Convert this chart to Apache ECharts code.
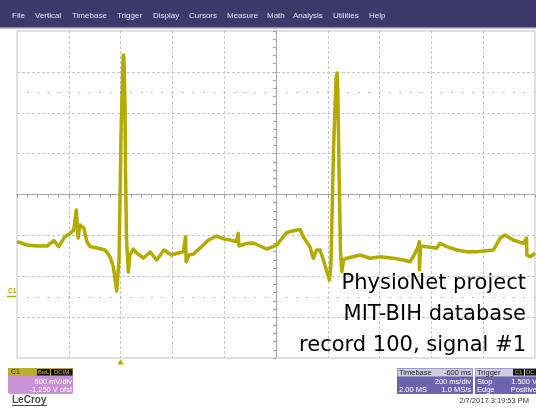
<!DOCTYPE html>
<html><head><meta charset="utf-8">
<script src="https://cdn.jsdelivr.net/npm/echarts@6/dist/echarts.min.js"></script>
<style>html,body{margin:0;padding:0;background:#fff}#c{width:536px;height:410px}</style>
</head><body><div id="c"></div>
<script>
const timeMs = [-400,-361,-323,-284,-257,-239,-215,-194,-181,-171,-164,-157,-142,-130,-117,-91,-60,-41,-28,-15,-6,2,10,13,17,19,23,30,36,49,62,88,114,139,168,195,223,242,251,253,264,281,313,339,371,403,422,448,454,457,487,512,538,564,603,641,680,693,705,731,744,757,770,783,806,812,822,832,836,839,844,849,854,861,873,898,924,963,1002,1053,1092,1117,1130,1149,1153,1154,1158,1182,1220,1233,1259,1298,1336,1375,1439,1465,1484,1516,1555,1567,1569,1581,1600];
const volts = [0.673,0.632,0.62,0.62,0.685,0.612,0.734,0.775,0.816,1.06,0.718,0.877,0.84,0.673,0.612,0.596,0.571,0.489,0.367,0.07,0.449,2.039,2.956,2.92,2.32,1.513,0.693,0.302,0.51,0.583,0.534,0.473,0.547,0.449,0.571,0.51,0.534,0.55,0.734,0.428,0.51,0.522,0.612,0.693,0.742,0.702,0.693,0.673,0.775,0.62,0.653,0.657,0.62,0.583,0.632,0.785,0.816,0.822,0.734,0.612,0.47,0.571,0.571,0.449,0.204,0.388,1.794,2.675,2.736,2.467,1.427,0.571,0.306,0.449,0.47,0.489,0.51,0.47,0.489,0.47,0.449,0.428,0.489,0.612,0.673,0.327,0.62,0.612,0.592,0.653,0.612,0.571,0.55,0.55,0.571,0.714,0.755,0.693,0.653,0.718,0.51,0.489,0.531];
const msPerDiv = 200, triggerDelayMs = -600, voltsPerDiv = 0.5, offsetV = -1.25, refLevelsV = [0, 2.5];
const menuItems = ['File','Vertical','Timebase','Trigger','Display','Cursors','Measure','Math','Analysis','Utilities','Help'];
const overlayLines = ['PhysioNet project','MIT-BIH database','record 100, signal #1'];
const dateText = '2/7/2017 3:19:53 PM';

// ---- layout ----
const menuX = [12,35,72,117,153,189,227,267,293,333,369];
const TRACE = '#b3ab00';
const centerT = -triggerDelayMs, centerV = -offsetV;
const tMin = centerT - 5*msPerDiv, tMax = centerT + 5*msPerDiv;
const vMin = centerV - 4*voltsPerDiv, vMax = centerV + 4*voltsPerDiv;
const seriesData = timeMs.map((t,i)=>[t, volts[i]]);

const chart = echarts.init(document.getElementById('c'), null, {renderer:'canvas'});
const divAxis = (n, splitShow, inside) => ({
  type:'value', min:-n, max:n, interval:1, gridIndex:0,
  axisLabel:{show:false},
  axisLine:{show:true, onZero:true, onZeroAxisIndex:0, lineStyle:{color:'#a4a4a4', width:1}},
  axisTick:{show:true, inside:inside, length:3, lineStyle:{color:'#a4a4a4'}},
  minorTick:{show:true, splitNumber:5, length:3, lineStyle:{color:'#a4a4a4'}},
  splitLine:{show:splitShow, showMinLine:false, showMaxLine:false, lineStyle:{color:'#c6c6c6', type:[3,2], width:1}},
  minorSplitLine:{show:false}
});
chart.setOption({
  animation:false,
  backgroundColor:'#ffffff',
  grid:{left:17, right:1, top:31, bottom:52, show:true, borderColor:'#c2c2c2', borderWidth:1, backgroundColor:'#ffffff'},
  xAxis:[ divAxis(5,true,false), divAxis(5,false,true),
    {type:'value', min:tMin, max:tMax, show:false, gridIndex:0} ],
  yAxis:[ divAxis(4,true,false), divAxis(4,false,true),
    {type:'value', min:vMin, max:vMax, show:false, gridIndex:0} ],
  series:[{
    type:'line', xAxisIndex:2, yAxisIndex:2, data:seriesData, showSymbol:false, smooth:false,
    lineStyle:{color:TRACE, width:3.5, join:'round'}, z:5
  }]
});

const g = [];
// reference dotted lines (ground and level markers)
const xL = chart.convertToPixel({xAxisIndex:2}, tMin), xR = chart.convertToPixel({xAxisIndex:2}, tMax);
refLevelsV.forEach(v=>{
  const y = Math.round(chart.convertToPixel({yAxisIndex:2}, v)) + 0.5;
  g.push({type:'line', shape:{x1:xL+10, y1:y, x2:xR, y2:y}, style:{stroke:'#a8a8a8', lineWidth:1.2, lineDash:[1.5,8.85]}, z:3, silent:true});
});
// menu bar
g.push({type:'rect', shape:{x:0,y:0,width:536,height:28}, style:{fill:'#3f386b'}, z:10});
g.push({type:'rect', shape:{x:0,y:27,width:536,height:1.5}, style:{fill:'#8d87b6'}, z:11});
menuItems.forEach((m,i)=>g.push({type:'text', x:menuX[i], y:16, style:{text:m, fill:'#e6e6f0', font:'8px "Liberation Sans", Arial', verticalAlign:'middle'}, z:12}));
// overlay text
overlayLines.forEach((s,i)=>g.push({type:'text', x:526, y:284+i*31, style:{text:s, fill:'#000', font:'21px "DejaVu Sans", Verdana', align:'right', verticalAlign:'middle'}, z:20}));
// C1 ground marker
const gy = chart.convertToPixel({yAxisIndex:2}, 0);
g.push({type:'text', x:8, y:gy-5, style:{text:'C1', fill:TRACE, font:'bold 6.5px "Liberation Sans", Arial', verticalAlign:'middle'}, z:12});
g.push({type:'rect', shape:{x:7,y:gy-1,width:9,height:1.6}, style:{fill:TRACE}, z:12});
// trigger marker
const tx = chart.convertToPixel({xAxisIndex:2}, 0);
g.push({type:'polygon', shape:{points:[[tx-3,364.5],[tx+3,364.5],[tx,359]]}, style:{fill:TRACE}, z:12});
// C1 box
g.push({type:'rect', shape:{x:8,y:368,width:65,height:26,r:2}, style:{fill:'#c892d5'}, z:12});
g.push({type:'rect', shape:{x:8,y:368,width:65,height:8}, style:{fill:'#bcad2c'}, z:13});
g.push({type:'text', x:11, y:372, style:{text:'C1', fill:'#2a2a2a', font:'7px "Liberation Sans", Arial', verticalAlign:'middle'}, z:14});
g.push({type:'rect', shape:{x:37,y:369,width:13,height:6.5}, style:{fill:'#111'}, z:14});
g.push({type:'rect', shape:{x:51,y:369,width:21.5,height:6.5}, style:{fill:'#111'}, z:14});
g.push({type:'text', x:43.5, y:372.3, style:{text:'BwL', fill:'#c8b840', font:'6px "Liberation Sans", Arial', align:'center', verticalAlign:'middle'}, z:15});
g.push({type:'text', x:61.7, y:372.3, style:{text:'DCIM', fill:'#c8b840', font:'6px "Liberation Sans", Arial', align:'center', verticalAlign:'middle'}, z:15});
g.push({type:'text', x:72, y:381.5, style:{text:'500 mV/div', fill:'#fff', font:'7.5px "Liberation Sans", Arial', align:'right', verticalAlign:'middle'}, z:14});
g.push({type:'text', x:72, y:389.5, style:{text:'-1.250 V ofst', fill:'#fff', font:'7.5px "Liberation Sans", Arial', align:'right', verticalAlign:'middle'}, z:14});
// LeCroy
g.push({type:'text', x:12, y:400, style:{text:'LeCroy', fill:'#4a4a4a', font:'bold 10px "Liberation Sans", Arial', verticalAlign:'middle'}, z:12});
g.push({type:'rect', shape:{x:12,y:405,width:35,height:1}, style:{fill:'#4a4a4a'}, z:12});
// Timebase box
g.push({type:'rect', shape:{x:397,y:368,width:76,height:26,r:1}, style:{fill:'#6d64ad'}, z:12});
g.push({type:'rect', shape:{x:397.5,y:368.5,width:75,height:8}, style:{fill:'#cfcbe2'}, z:13});
const smallFont = '7.5px "Liberation Sans", Arial';
const tt = (s,x,y,al,fill)=>g.push({type:'text', x:x, y:y, style:{text:s, fill:fill, font:smallFont, align:al, verticalAlign:'middle'}, z:15});
tt('Timebase',399,372.5,'left','#222'); tt('-600 ms',471,372.5,'right','#222');
tt('200 ms/div',471,381.5,'right','#fff'); tt('2.00 MS',399,389.5,'left','#fff'); tt('1.0 MS/s',471,389.5,'right','#fff');
// Trigger box
g.push({type:'rect', shape:{x:475,y:368,width:63,height:26,r:1}, style:{fill:'#6d64ad'}, z:12});
g.push({type:'rect', shape:{x:475.5,y:368.5,width:62,height:8}, style:{fill:'#cfcbe2'}, z:13});
g.push({type:'rect', shape:{x:513,y:369,width:11,height:6.5}, style:{fill:'#111'}, z:14});
g.push({type:'rect', shape:{x:525,y:369,width:12,height:6.5}, style:{fill:'#111'}, z:14});
g.push({type:'text', x:518.5, y:372.3, style:{text:'C1', fill:'#c8b840', font:'6px "Liberation Sans", Arial', align:'center', verticalAlign:'middle'}, z:15});
g.push({type:'text', x:526, y:372.3, style:{text:'DC', fill:'#c8b840', font:'6px "Liberation Sans", Arial', align:'left', verticalAlign:'middle'}, z:15});
tt('Trigger',477,372.5,'left','#222');
tt('Stop',477,381.5,'left','#fff'); tt('1.500 V',537,381.5,'right','#fff');
tt('Edge',477,389.5,'left','#fff'); tt('Positive',537,389.5,'right','#fff');
// date
g.push({type:'text', x:529, y:400.5, style:{text:dateText, fill:'#333', font:'7.5px "Liberation Sans", Arial', align:'right', verticalAlign:'middle'}, z:12});
chart.setOption({graphic:g});
</script></body></html>
